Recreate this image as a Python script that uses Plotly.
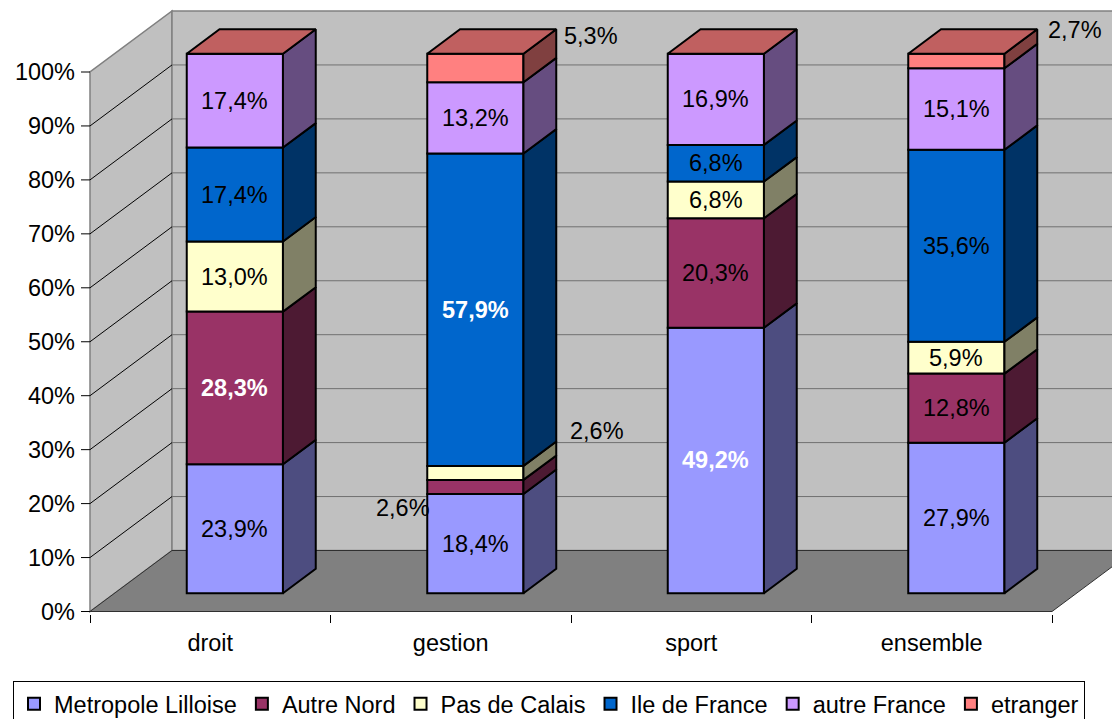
import plotly.graph_objects as go

# ---------------- data ----------------
categories = ["droit", "gestion", "sport", "ensemble"]
series_names = ["Metropole Lilloise", "Autre Nord", "Pas de Calais",
                "Ile de France", "autre France", "etranger"]
metropole_lilloise = [23.9, 18.4, 49.2, 27.9]
autre_nord = [28.3, 2.6, 20.3, 12.8]
pas_de_calais = [13.0, 2.6, 6.8, 5.9]
ile_de_france = [17.4, 57.9, 6.8, 35.6]
autre_france = [17.4, 13.2, 16.9, 15.1]
etranger = [0.0, 5.3, 0.0, 2.7]
series_values = [metropole_lilloise, autre_nord, pas_de_calais,
                 ile_de_france, autre_france, etranger]
y_ticks = [0, 10, 20, 30, 40, 50, 60, 70, 80, 90, 100]
y_tick_labels = [f"{v}%" for v in y_ticks]

# ---------------- styles ----------------
front_colors = ["#9999FF", "#993366", "#FFFFCC", "#0066CC", "#CC99FF", "#FF8080"]
side_colors = ["#4D4D80", "#4D1A33", "#808066", "#003366", "#664D80", "#804040"]
top_color = "#C06060"
FONT = "Liberation Sans, Arial, sans-serif"
FS = 23.5

# page offset (default body margin of the html page)
PAGE = 8
W, H = 1120 - PAGE, 719 - PAGE

# geometry (pixel scale of the axes, 3D depth vector)
PX_X = 240.5          # px per category unit
PX_Y = 5.395          # px per percent
DXU = 82 / PX_X       # full depth, x units
DYU = 61 / PX_Y       # full depth, y units
BAR_W = 0.4
F0, F1 = 0.3, 0.7     # bar front/back depth fractions
OX, OY = F0 * DXU, F0 * DYU
BX, BY = (F1 - F0) * DXU, (F1 - F0) * DYU

# plot area in page pixels: left 78, right 1120, top 8, bottom 614; x=-0.5 at 90, y=0 at 611.5
x_min = -0.5 - 12 / PX_X
x_max = -0.5 + 1030 / PX_X
y_min = -2.5 / PX_Y
y_max = (611.5 - PAGE) / PX_Y
M_L, M_R, M_T, M_B = 78 - PAGE, 0, 0, H - (614 - PAGE)
plot_w = W - M_L - M_R
plot_h = H - M_T - M_B

# label tweaks (pixel shifts) and emphasised labels
label_shift = {(1, 1): (-72, -21), (1, 2): (122, 42), (1, 5): (116, 32), (3, 5): (119, 31)}
bold_labels = {(0, 1), (1, 3), (2, 0)}

fig = go.Figure()

shapes = []
def poly(pts, fill, line, width=1):
    path = "M " + " L ".join(f"{x},{y}" for x, y in pts) + " Z"
    return dict(type="path", path=path, xref="x", yref="y", fillcolor=fill,
                line=dict(color=line, width=width), layer="below")

L, R = -0.5, 3.5
# left wall, back wall, floor
shapes.append(poly([(L, 0), (L, 100), (L + DXU, 100 + DYU), (L + DXU, DYU)], "#C0C0C0", "#808080", 1.5))
shapes.append(poly([(L + DXU, DYU), (R + DXU + 1, DYU), (R + DXU + 1, 100 + DYU), (L + DXU, 100 + DYU)], "#C0C0C0", "#808080", 1.5))
for v in y_ticks[1:-1]:
    shapes.append(dict(type="line", xref="x", yref="y", x0=L, y0=v, x1=L + DXU, y1=v + DYU,
                       line=dict(color="#000000", width=1), layer="below"))
    shapes.append(dict(type="line", xref="x", yref="y", x0=L + DXU, y0=v + DYU, x1=R + DXU + 1, y1=v + DYU,
                       line=dict(color="#707070", width=1), layer="below"))
shapes.append(poly([(L, 0), (R, 0), (R + DXU, DYU), (L + DXU, DYU)], "#808080", "#303030", 1))
# y tick stubs
for v in y_ticks:
    shapes.append(dict(type="line", xref="x", yref="y", x0=L - 9 / PX_X, y0=v, x1=L, y1=v,
                       line=dict(color="#000000", width=1), layer="above"))

def fmt(v):
    return f"{v:.1f}".replace(".", ",") + "%"

# bars
n = len(categories)
bases = [0.0] * n
annotations = []
for s, (name, vals) in enumerate(zip(series_names, series_values)):
    xs = [i + OX for i in range(n)]
    fig.add_trace(go.Bar(
        x=xs, y=vals, base=[b + OY for b in bases], width=BAR_W, name=name,
        marker=dict(color=front_colors[s], line=dict(color="black", width=2)),
        hoverinfo="skip"))
    sx, sy = [], []
    for i in range(n):
        b, t = bases[i], bases[i] + vals[i]
        xr = i + OX + BAR_W / 2
        if vals[i] > 0:
            sx += [xr, xr + BX, xr + BX, xr, xr, None]
            sy += [b + OY, b + OY + BY, t + OY + BY, t + OY, b + OY, None]
            bold = (i, s) in bold_labels
            dx, dy = label_shift.get((i, s), (0, 0))
            txt = fmt(vals[i])
            annotations.append(dict(
                x=i + OX, y=b + vals[i] / 2 + OY, xref="x", yref="y",
                text=f"<b>{txt}</b>" if bold else txt,
                showarrow=False, xshift=dx, yshift=dy,
                font=dict(family=FONT, size=FS, color="white" if bold else "black")))
    fig.add_trace(go.Scatter(x=sx, y=sy, mode="lines", fill="toself",
                             fillcolor=side_colors[s], line=dict(color="black", width=2),
                             showlegend=False, hoverinfo="skip"))
    bases = [bases[i] + vals[i] for i in range(n)]

# top faces
tx, ty = [], []
for i in range(n):
    xl, xr = i + OX - BAR_W / 2, i + OX + BAR_W / 2
    t = bases[i] + OY
    tx += [xl, xr, xr + BX, xl + BX, xl, None]
    ty += [t, t, t + BY, t + BY, t, None]
fig.add_trace(go.Scatter(x=tx, y=ty, mode="lines", fill="toself", fillcolor=top_color,
                         line=dict(color="black", width=2), showlegend=False, hoverinfo="skip"))

fig.update_layout(
    width=W, height=H, autosize=False,
    margin=dict(l=M_L, r=M_R, t=M_T, b=M_B, pad=0, autoexpand=False),
    paper_bgcolor="white", plot_bgcolor="rgba(0,0,0,0)",
    barmode="overlay",
    font=dict(family=FONT, size=FS, color="black"),
    shapes=shapes, annotations=annotations,
    showlegend=True,
    legend=dict(orientation="h",
                x=((13 - PAGE) - M_L) / plot_w, xanchor="left",
                y=-((681 - PAGE) - (H - M_B)) / plot_h, yanchor="top",
                bordercolor="black", borderwidth=1, bgcolor="white",
                font=dict(family=FONT, size=FS, color="black"),
                itemwidth=30, traceorder="normal"),
    xaxis=dict(range=[x_min, x_max], tickvals=list(range(n)), ticktext=categories,
               showgrid=False, zeroline=False, showline=False, ticks="",
               ticklabelstandoff=12, automargin=False,
               minor=dict(tickvals=[-0.5, 0.5, 1.5, 2.5, 3.5], ticks="outside",
                          ticklen=8, tickcolor="black", showgrid=False),
               tickfont=dict(family=FONT, size=FS, color="black"), fixedrange=True),
    yaxis=dict(range=[y_min, y_max], tickvals=y_ticks, ticktext=y_tick_labels,
               showgrid=False, zeroline=False, showline=False, ticks="",
               ticklabelstandoff=2, automargin=False,
               tickfont=dict(family=FONT, size=FS, color="black"), fixedrange=True),
)

fig.write_html("out.html")
